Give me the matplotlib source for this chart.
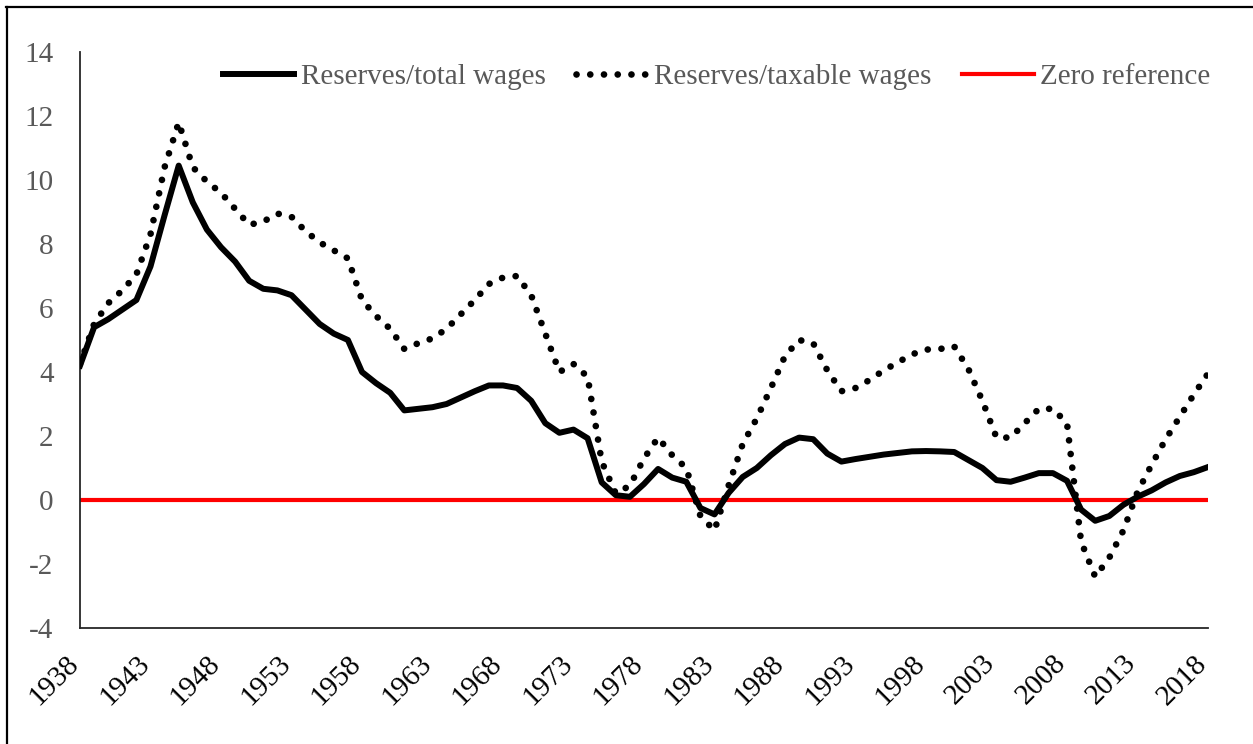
import matplotlib
matplotlib.use("Agg")
import matplotlib.pyplot as plt
from matplotlib.lines import Line2D
from matplotlib.transforms import ScaledTranslation

years = list(range(1938, 2019))

total_wages = [
    4.2, 5.4, 5.65, 5.95, 6.25, 7.3, 8.9, 10.45, 9.3, 8.45,
    7.9, 7.45, 6.85, 6.6, 6.55, 6.4, 5.95, 5.5, 5.2, 5.0,
    4.0, 3.65, 3.35, 2.8, 2.85, 2.9, 3.0, 3.2, 3.4, 3.58,
    3.58, 3.5, 3.1, 2.4, 2.1, 2.2, 1.93, 0.55, 0.15, 0.1,
    0.5, 0.97, 0.7, 0.57, -0.25, -0.45, 0.22, 0.72, 1.0, 1.4,
    1.75, 1.95, 1.9, 1.45, 1.2, 1.28, 1.35, 1.42, 1.47, 1.52,
    1.53, 1.52, 1.5, 1.25, 1.0, 0.62, 0.57, 0.7, 0.84, 0.84,
    0.6, -0.3, -0.65, -0.5, -0.15, 0.1, 0.3, 0.55, 0.75, 0.87,
    1.03,
]

taxable_wages = [
    4.25, 5.5, 6.15, 6.55, 7.05, 8.3, 10.4, 11.8, 10.4, 9.95,
    9.6, 9.1, 8.6, 8.7, 8.95, 8.85, 8.4, 8.05, 7.8, 7.55,
    6.25, 5.75, 5.35, 4.72, 4.9, 5.05, 5.35, 5.8, 6.25, 6.75,
    6.95, 7.0, 6.4, 5.2, 4.0, 4.25, 3.85, 1.2, 0.2, 0.45,
    1.3, 1.95, 1.4, 1.0, -0.5, -0.95, 0.45, 1.75, 2.55, 3.5,
    4.5, 5.0, 4.9, 4.05, 3.4, 3.5, 3.75, 4.05, 4.3, 4.55,
    4.7, 4.72, 4.8, 4.1, 3.1, 1.95, 1.95, 2.4, 2.85, 2.85,
    2.4, -1.3, -2.4, -1.8, -0.95, 0.25, 1.1, 1.9, 2.6, 3.3,
    3.95,
]

zero_ref = [0.0] * len(years)

label_total = "Reserves/total wages"
label_taxable = "Reserves/taxable wages"
label_zero = "Zero reference"

y_ticks = [-4, -2, 0, 2, 4, 6, 8, 10, 12, 14]
x_ticks = list(range(1938, 2019, 5))

plt.rcParams['font.family'] = ['Liberation Serif', 'DejaVu Serif']

fig = plt.figure(figsize=(12.53, 7.44), dpi=100)
ax = fig.add_axes([80 / 1253, 1 - 628 / 744, (1208 - 80) / 1253, (628 - 52) / 744])

ax.plot(years, total_wages, color='black', lw=4.3, solid_joinstyle='round',
        label=label_total, zorder=3)
ax.plot(years, taxable_wages, color='black', lw=4.8, linestyle=(0, (0.01, 2.05)),
        dash_capstyle='round', label=label_taxable, zorder=3)
ax.plot(years, zero_ref, color='#ff0000', lw=3.0, label=label_zero, zorder=2)

ax.set_xlim(1938, 2018)
ax.set_ylim(-4, 14)
ax.set_yticks(y_ticks)
ax.set_yticklabels([str(v) for v in y_ticks], color='#595959', fontsize=21)
ax.set_xticks(x_ticks)
ax.set_xticklabels([str(v) for v in x_ticks], rotation=45, ha='right', va='top',
                   fontsize=21, color='black')
ax.tick_params(axis='both', length=0)
ax.tick_params(axis='y', pad=19)
ax.tick_params(axis='x', pad=16)
for lab in ax.get_xticklabels():
    lab.set_transform(lab.get_transform() + ScaledTranslation(4 / 100, 0, fig.dpi_scale_trans))

for s in ['top', 'right']:
    ax.spines[s].set_visible(False)
for s in ['left', 'bottom']:
    ax.spines[s].set_color('#262626')
    ax.spines[s].set_linewidth(1.3)

leg = ax.legend(loc='center right', ncol=3, frameon=False, fontsize=21,
                handlelength=2.45, handletextpad=0.22, columnspacing=1.05,
                bbox_to_anchor=(1.002, 0.957), borderaxespad=0.0, borderpad=0.0)
for t in leg.get_texts():
    t.set_color('#595959')

# figure border (left and top edges visible)
fig.add_artist(Line2D([6.5 / 1253, 6.5 / 1253], [0, 1 - 7 / 744], color='black',
                      lw=1.6, transform=fig.transFigure))
fig.add_artist(Line2D([6 / 1253, 1], [1 - 7 / 744, 1 - 7 / 744], color='black',
                      lw=1.6, transform=fig.transFigure))

fig.savefig('out.png', dpi=100)
